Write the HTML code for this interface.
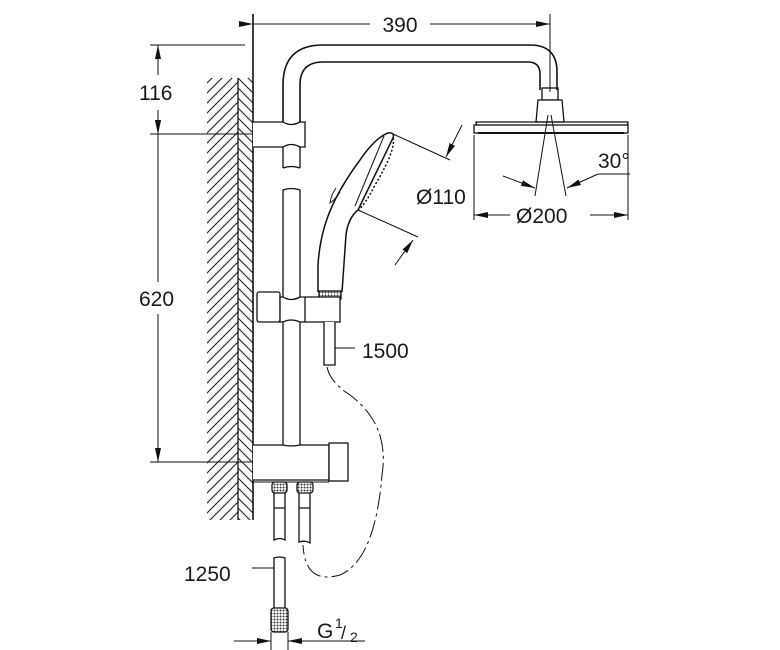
<!DOCTYPE html>
<html><head><meta charset="utf-8"><style>
html,body{margin:0;padding:0;background:#fff}
svg{display:block}
text{font-family:"Liberation Sans",sans-serif;font-size:21px;fill:#1a1a1a}
</style></head><body>
<svg width="780" height="650" viewBox="0 0 780 650" xmlns="http://www.w3.org/2000/svg">
<defs>
<pattern id="h1" width="10" height="10" patternUnits="userSpaceOnUse"><path d="M-2 12 L12 -2 M-2 2 L2 -2 M8 12 L12 8" stroke="#222" stroke-width="1.1"/></pattern>
<pattern id="h2" width="10" height="10" patternUnits="userSpaceOnUse"><path d="M-2 -2 L12 12 M8 -2 L12 2 M-2 8 L2 12" stroke="#222" stroke-width="1.1"/></pattern>
<pattern id="knurl" width="3" height="3" patternUnits="userSpaceOnUse"><rect width="3" height="3" fill="#fff"/><circle cx="1.5" cy="1.5" r="1" fill="#333"/></pattern>
<marker id="ar" markerWidth="14" markerHeight="8" refX="14" refY="4" orient="auto" markerUnits="userSpaceOnUse"><path d="M0 1 L14 4 L0 7 Z" fill="#111"/></marker>
</defs>
<g stroke="#111" stroke-width="1.3" fill="none">
<rect x="207" y="78" width="31" height="442" fill="url(#h1)" stroke="none"/>
<rect x="238" y="78" width="15" height="442" fill="url(#h2)" stroke="none"/>
<line x1="238" y1="78" x2="238" y2="520"/>
<line x1="253" y1="14" x2="253" y2="520" stroke-width="1.6"/>
<line x1="253" y1="24" x2="370" y2="24" marker-start="url(#ar)" stroke-width="1"/>
<line x1="430" y1="24" x2="550" y2="24" marker-end="url(#ar)" stroke-width="1"/>
<line x1="550" y1="14" x2="550" y2="92" stroke-width="1"/>
<line x1="150" y1="45" x2="245" y2="45" stroke-width="1"/>
<line x1="150" y1="134" x2="253" y2="134" stroke-width="1"/>
<line x1="150" y1="462" x2="253" y2="462" stroke-width="1"/>
<line x1="158" y1="60" x2="158" y2="45" marker-end="url(#ar)" stroke-width="1"/>
<line x1="158" y1="75" x2="158" y2="60" stroke-width="1"/>
<line x1="158" y1="110" x2="158" y2="134" marker-end="url(#ar)" stroke-width="1"/>
<line x1="158" y1="134" x2="158" y2="282" marker-start="url(#ar)" stroke-width="1"/>
<line x1="158" y1="314" x2="158" y2="462" marker-end="url(#ar)" stroke-width="1"/>
<path d="M283 122 L283 85 Q283 45 323 45 L530 45 Q557 45 557 72 L557 90" stroke-width="1.6"/>
<path d="M300 122 L300 85 Q300 62 323 62 L528 62 Q540 62 540 74 L540 90" stroke-width="1.6"/>
<rect x="542" y="88" width="16" height="12"/>
<path d="M538 100 L562 100 L564 122 L536 122 Z" fill="#fff"/>
<path d="M476 122 Q476 126 480 126 L624 126 Q628 126 628 122 Z"/>
<rect x="474" y="125" width="154" height="8" fill="#fff"/>
<line x1="478" y1="133" x2="624" y2="133" stroke-width="2"/>
<line x1="474" y1="135" x2="474" y2="220" stroke-width="1"/>
<line x1="628" y1="135" x2="628" y2="220" stroke-width="1"/>
<line x1="548" y1="115" x2="535" y2="196" stroke-width="1"/>
<line x1="551" y1="115" x2="566" y2="196" stroke-width="1"/>
<line x1="503" y1="176" x2="535" y2="188" marker-end="url(#ar)" stroke-width="1"/>
<line x1="630" y1="174" x2="598" y2="174" stroke-width="1"/>
<line x1="598" y1="174" x2="567" y2="188" marker-end="url(#ar)" stroke-width="1"/>
<line x1="510" y1="215" x2="474" y2="215" marker-end="url(#ar)" stroke-width="1"/>
<line x1="590" y1="215" x2="628" y2="215" marker-end="url(#ar)" stroke-width="1"/>
<path d="M253 122 L283 122 Q291 127 300 122 L305 122 L305 147 L300 147 Q291 142 283 147 L253 147" fill="#fff"/>
<path d="M283 147 L283 168 M300 147 L300 168 M283 168 Q291 165 300 168"/>
<path d="M283 455 L283 190 Q291 187 300 190 L300 455"/>
<path d="M318 292 L318 265 Q320 230 335 200 Q345 180 360 160 Q375 138 388 133 Q395 132 393 138 L358 210 Q348 218 346 235 L342 292" fill="#fff" stroke-width="1.5"/>
<path d="M384 136 L355 206" stroke-width="1"/>
<path d="M393 138 Q396 150 375 185 Q365 205 358 210" stroke-width="1.5" stroke-dasharray="2 2"/>
<path d="M336 188 Q331 195 330 203 Q335 200 340 192" stroke-width="1"/>
<rect x="319" y="291" width="22" height="8" fill="url(#knurl)"/>
<line x1="393" y1="134" x2="450" y2="160" stroke-width="1"/>
<line x1="358" y1="210" x2="418" y2="237" stroke-width="1"/>
<line x1="462" y1="125" x2="446" y2="157" marker-end="url(#ar)" stroke-width="1"/>
<line x1="395" y1="265" x2="413" y2="240" marker-end="url(#ar)" stroke-width="1"/>
<rect x="257" y="292" width="23" height="30" rx="2" fill="#fff"/>
<path d="M280 297 L283 297 Q291 302 300 297 L340 297 L340 322 L300 322 Q291 318 283 322 L280 322 Z" fill="#fff"/>
<line x1="305" y1="297" x2="305" y2="322"/>
<path d="M324 322 L324 365 L335 365 L335 322" fill="#fff"/>
<line x1="335" y1="348" x2="355" y2="348" stroke-width="1"/>
<path d="M327 367 Q330 382 350 395 Q390 425 382 475 Q375 560 340 575 Q305 585 303 545" stroke-dasharray="18 4 3 4" stroke-width="1"/>
<path d="M253 445 L283 445 Q291 447 300 445 L329 445 L329 480 L253 480" fill="#fff"/>
<rect x="329" y="443" width="19" height="38" fill="#fff"/>
<line x1="253" y1="482" x2="329" y2="482" stroke-width="1"/>
<rect x="272" y="482" width="15" height="11" rx="3" fill="url(#knurl)"/>
<rect x="297" y="482" width="16" height="11" rx="3" fill="url(#knurl)"/>
<path d="M274 493 L274 540 Q280 537 285 540 L285 493 M274 508 L285 508"/>
<path d="M299 493 L299 542 Q305 540 310 543 L310 493 M299 508 L310 508"/>
<path d="M274 610 L274 558 Q280 556 285 558 L285 610"/>
<line x1="252" y1="568" x2="274" y2="568" stroke-width="1"/>
<rect x="271" y="608" width="17" height="24" rx="3" fill="url(#knurl)"/>
<line x1="271" y1="632" x2="271" y2="650" stroke-width="1"/>
<line x1="288" y1="632" x2="288" y2="650" stroke-width="1"/>
<line x1="234" y1="641" x2="271" y2="641" marker-end="url(#ar)" stroke-width="1"/>
<line x1="365" y1="641" x2="288" y2="641" marker-end="url(#ar)" stroke-width="1"/>
</g>
<text x="400" y="32" text-anchor="middle">390</text>
<text x="139" y="100">116</text>
<text x="139" y="306">620</text>
<text x="416" y="204">Ø110</text>
<text x="516" y="223">Ø200</text>
<text x="598" y="168">30°</text>
<text x="362" y="358">1500</text>
<text x="184" y="581">1250</text>
<text x="317" y="638">G</text>
<text x="335" y="628" style="font-size:14px">1</text>
<text x="341" y="639" style="font-size:18px">/</text>
<text x="350" y="642" style="font-size:14px">2</text>
</svg>
</body></html>
